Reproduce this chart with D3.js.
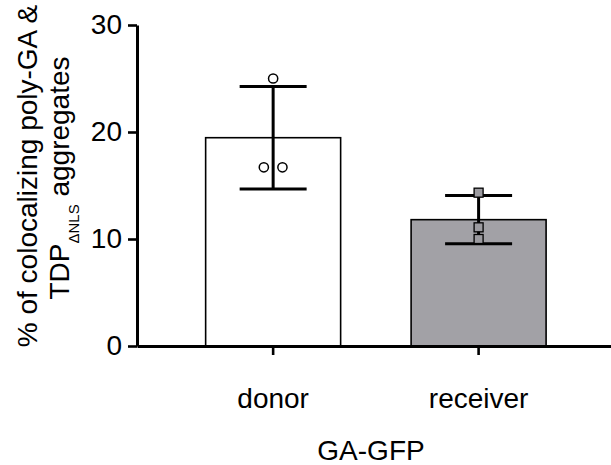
<!DOCTYPE html>
<html>
<head>
<meta charset="utf-8">
<script src="https://cdn.jsdelivr.net/npm/d3@7"></script>
<style>
  html, body { margin: 0; padding: 0; background: #fff; }
  svg text { font-family: Arial, "Liberation Sans", Helvetica, sans-serif; fill: #000; }
</style>
</head>
<body>
<svg id="chart" width="611" height="465"></svg>
<script>
// ---- data ----
const categories = ["donor", "receiver"];
const donorPoints = [25.0, 16.7, 16.7];
const receiverPoints = [14.33, 11.09, 10.0];
const yTicks = [0, 10, 20, 30];
const xTitle = "GA-GFP";
const yTitleLine1 = "% of colocalizing poly-GA &";
const yTitleLine2a = "TDP";
const yTitleSub = "\u0394NLS";
const yTitleLine2b = " aggregates";

const series = [
  { cat: categories[0], points: donorPoints, fill: "#ffffff", marker: "circle" },
  { cat: categories[1], points: receiverPoints, fill: "#a2a1a6", marker: "square" }
];
series.forEach(s => { s.mean = d3.mean(s.points); s.sd = d3.deviation(s.points); });

// ---- layout ----
const svg = d3.select("#chart");
const x0 = 137, x1 = 611, yBottom = 346, yTop = 25;

const x = d3.scaleBand().domain(categories).range([x0, x1])
  .paddingInner(0.343).paddingOuter(0.325).align(0.514);
const y = d3.scaleLinear().domain([0, 30]).range([yBottom, yTop]);

// bars
svg.append("g").selectAll("rect").data(series).join("rect")
  .attr("x", d => x(d.cat))
  .attr("y", d => y(d.mean))
  .attr("width", x.bandwidth())
  .attr("height", d => y(0) - y(d.mean))
  .attr("fill", d => d.fill)
  .attr("stroke", "#000")
  .attr("stroke-width", 1.6);

// error bars
const capHalf = 33.5;
const eb = svg.append("g").attr("stroke", "#000").attr("stroke-width", 3);
series.forEach(s => {
  const cx = x(s.cat) + x.bandwidth() / 2;
  eb.append("line").attr("x1", cx).attr("x2", cx)
    .attr("y1", y(s.mean - s.sd)).attr("y2", y(s.mean + s.sd));
  [s.mean - s.sd, s.mean + s.sd].forEach(v => {
    eb.append("line").attr("x1", cx - capHalf).attr("x2", cx + capHalf)
      .attr("y1", y(v)).attr("y2", y(v));
  });
});

// points (dodge overlapping markers horizontally)
const mSize = 9, dodgeStep = 18.6;
const pg = svg.append("g");
series.forEach(s => {
  const cx = x(s.cat) + x.bandwidth() / 2;
  const groups = [];
  s.points.forEach(v => {
    const g = groups.find(gr => Math.abs(y(gr[0]) - y(v)) < mSize);
    if (g) g.push(v); else groups.push([v]);
  });
  groups.forEach(gr => {
    gr.forEach((v, i) => {
      const px = cx + (i - (gr.length - 1) / 2) * dodgeStep;
      const py = y(v);
      if (s.marker === "circle") {
        pg.append("circle").attr("cx", px).attr("cy", py).attr("r", 4.6)
          .attr("fill", "#fff").attr("stroke", "#000").attr("stroke-width", 1.5);
      } else {
        pg.append("rect").attr("x", px - mSize / 2).attr("y", py - mSize / 2)
          .attr("width", mSize).attr("height", mSize)
          .attr("fill", "#9c9ba0").attr("stroke", "#000").attr("stroke-width", 1.3);
      }
    });
  });
});

// axes
const yAxis = svg.append("g").attr("transform", `translate(${x0},0)`)
  .call(d3.axisLeft(y).tickValues(yTicks).tickSize(9).tickSizeOuter(0).tickPadding(6));
const xAxis = svg.append("g").attr("transform", `translate(0,${yBottom})`)
  .call(d3.axisBottom(x).tickSize(9).tickSizeOuter(0).tickPadding(33));
[yAxis, xAxis].forEach(a => {
  a.select(".domain").attr("stroke", "#000").attr("stroke-width", 3);
  a.selectAll(".tick line").attr("stroke", "#000").attr("stroke-width", 2.6);
  a.selectAll(".tick text").attr("font-size", 28)
    .attr("font-family", "Arial, 'Liberation Sans', sans-serif").attr("fill", "#000");
});

// axis titles
svg.append("text").attr("x", 371).attr("y", 460)
  .attr("text-anchor", "middle").attr("font-size", 28).text(xTitle);

const yt = svg.append("g").attr("transform", "rotate(-90)");
yt.append("text").attr("x", -176).attr("y", 37)
  .attr("text-anchor", "middle").attr("font-size", 28).text(yTitleLine1);
const t2 = yt.append("text").attr("x", -178).attr("y", 69)
  .attr("text-anchor", "middle").attr("font-size", 28);
t2.append("tspan").text(yTitleLine2a);
t2.append("tspan").attr("font-size", 15).attr("dy", 10).text(yTitleSub);
t2.append("tspan").attr("dy", -10).text(yTitleLine2b);
</script>
</body>
</html>
